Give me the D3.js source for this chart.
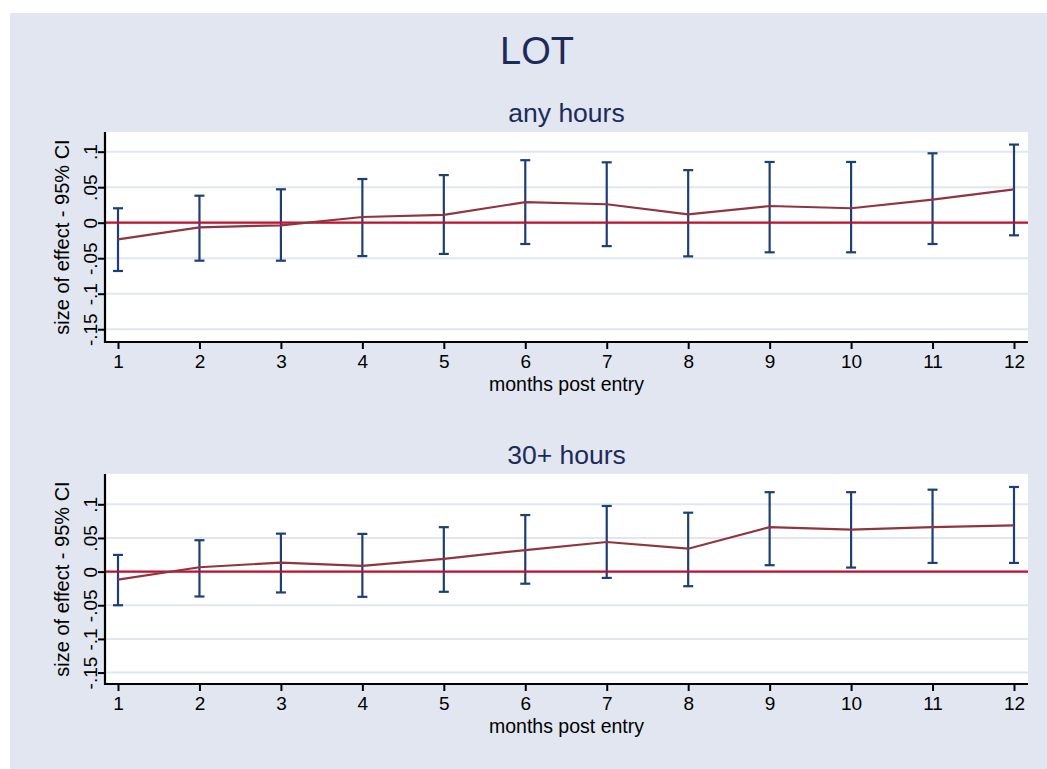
<!DOCTYPE html>
<html>
<head>
<meta charset="utf-8">
<script src="https://cdn.jsdelivr.net/npm/d3@7"></script>
<style>
  body { margin: 0; background: #ffffff; }
  text { font-family: "Liberation Sans", Arial, sans-serif; }
</style>
</head>
<body>
<div id="chart"></div>
<script>
// months post entry
const months = [1, 2, 3, 4, 5, 6, 7, 8, 9, 10, 11, 12];

// "any hours" estimates and 95% CI
const anyEst = [-0.0234, -0.0065, -0.0037, 0.008, 0.011, 0.029, 0.026, 0.0118, 0.0235, 0.0203, 0.0324, 0.047];
const anyLo = [-0.068, -0.0535, -0.0535, -0.047, -0.044, -0.030, -0.033, -0.0474, -0.0417, -0.0417, -0.030, -0.0178];
const anyHi = [0.0203, 0.038, 0.047, 0.0615, 0.067, 0.088, 0.085, 0.074, 0.0855, 0.0855, 0.0977, 0.110];

// "30+ hours" estimates and 95% CI
const fullEst = [-0.0119, 0.0065, 0.0134, 0.0085, 0.019, 0.032, 0.044, 0.034, 0.066, 0.0624, 0.066, 0.0688];
const fullLo = [-0.050, -0.037, -0.031, -0.0375, -0.030, -0.018, -0.0094, -0.0217, 0.0095, 0.006, 0.0129, 0.0129];
const fullHi = [0.0248, 0.0466, 0.0564, 0.056, 0.066, 0.084, 0.0975, 0.0875, 0.118, 0.118, 0.1217, 0.1257];

const yTicks = [-0.15, -0.1, -0.05, 0, 0.05, 0.1];

const W = 1047, H = 769;
const bg = '#e1e6f0';
const titleColor = '#1c2b5a';
const barColor = '#1d3f72';
const lineColor = '#903540';
const zeroColor = '#c2102f';
const gridColor = '#e1e6ef';

const svg = d3.select('#chart')
  .append('svg')
  .attr('width', W)
  .attr('height', H);

svg.append('rect')
  .attr('x', 10).attr('y', 13)
  .attr('width', W - 10).attr('height', H - 13)
  .attr('fill', bg);

svg.append('text')
  .attr('x', 537)
  .attr('y', 64)
  .attr('text-anchor', 'middle')
  .attr('font-size', '38px')
  .attr('fill', titleColor)
  .text('LOT');

const fmt = d => d === 0 ? '0' : String(d).replace('0.', '.');

function panel(cfg) {
  const left = 105, right = 1028;
  const g = svg.append('g');

  const x = d3.scaleLinear().domain([1, 12]).range([118, 1014]);
  const y = d3.scaleLinear().domain(cfg.domain).range([cfg.bottom, cfg.top]);

  g.append('text')
    .attr('x', (left + right) / 2)
    .attr('y', cfg.top - 10)
    .attr('text-anchor', 'middle')
    .attr('font-size', '26.5px')
    .attr('fill', titleColor)
    .text(cfg.title);

  g.append('rect')
    .attr('x', left).attr('y', cfg.top)
    .attr('width', right - left).attr('height', cfg.bottom - cfg.top)
    .attr('fill', '#ffffff');

  // gridlines
  g.selectAll('.grid')
    .data(yTicks)
    .enter()
    .append('line')
    .attr('class', 'grid')
    .attr('x1', left).attr('x2', right)
    .attr('y1', d => y(d)).attr('y2', d => y(d))
    .attr('stroke', gridColor)
    .attr('stroke-width', 2);

  // error bars
  const bars = g.selectAll('.ci')
    .data(months.map((m, i) => ({ m, lo: cfg.lo[i], hi: cfg.hi[i] })))
    .enter()
    .append('g')
    .attr('class', 'ci');

  bars.append('line')
    .attr('x1', d => x(d.m)).attr('x2', d => x(d.m))
    .attr('y1', d => y(d.lo)).attr('y2', d => y(d.hi))
    .attr('stroke', barColor).attr('stroke-width', 2.2);
  bars.append('line')
    .attr('x1', d => x(d.m) - 5).attr('x2', d => x(d.m) + 5)
    .attr('y1', d => y(d.lo)).attr('y2', d => y(d.lo))
    .attr('stroke', barColor).attr('stroke-width', 2.2);
  bars.append('line')
    .attr('x1', d => x(d.m) - 5).attr('x2', d => x(d.m) + 5)
    .attr('y1', d => y(d.hi)).attr('y2', d => y(d.hi))
    .attr('stroke', barColor).attr('stroke-width', 2.2);

  // zero line
  g.append('line')
    .attr('x1', left).attr('x2', right)
    .attr('y1', y(0)).attr('y2', y(0))
    .attr('stroke', zeroColor)
    .attr('stroke-width', 2.2);

  // point estimates
  g.append('path')
    .datum(months.map((m, i) => [m, cfg.est[i]]))
    .attr('fill', 'none')
    .attr('stroke', lineColor)
    .attr('stroke-width', 2.2)
    .attr('d', d3.line().x(d => x(d[0])).y(d => y(d[1])));

  // x axis
  const xAxis = g.append('g')
    .attr('transform', `translate(0,${cfg.bottom})`)
    .call(d3.axisBottom(x).tickValues(months).tickFormat(d3.format('d')).tickSize(7).tickPadding(6));
  xAxis.select('.domain').attr('d', `M${left - 1},0H${right}`).attr('stroke-width', 2.2);
  xAxis.selectAll('.tick line').attr('stroke-width', 2);
  xAxis.selectAll('.tick text')
    .attr('font-size', '19px')
    .attr('font-family', '"Liberation Sans", Arial, sans-serif')
    .attr('fill', '#000');

  g.append('text')
    .attr('x', (left + right) / 2)
    .attr('y', cfg.bottom + 49)
    .attr('text-anchor', 'middle')
    .attr('font-size', '19.5px')
    .attr('fill', '#000')
    .text('months post entry');

  // y axis
  const yAxis = g.append('g')
    .attr('transform', `translate(${left},0)`)
    .call(d3.axisLeft(y).tickValues(yTicks).tickFormat(fmt).tickSize(7));
  yAxis.select('.domain').attr('d', `M0,${cfg.top}V${cfg.bottom + 1}`).attr('stroke-width', 2.2);
  yAxis.selectAll('.tick line').attr('stroke-width', 2);
  yAxis.selectAll('.tick text')
    .attr('font-size', '19px')
    .attr('font-family', '"Liberation Sans", Arial, sans-serif')
    .attr('fill', '#000')
    .attr('x', 0)
    .attr('y', -8)
    .attr('dy', null)
    .attr('text-anchor', 'middle')
    .attr('transform', 'rotate(-90)');

  g.append('text')
    .attr('transform', `translate(69,${(cfg.top + cfg.bottom) / 2}) rotate(-90)`)
    .attr('text-anchor', 'middle')
    .attr('font-size', '20px')
    .attr('fill', '#000')
    .text('size of effect - 95% CI');
}

panel({ title: 'any hours', top: 132, bottom: 342, domain: [-0.168, 0.1277], est: anyEst, lo: anyLo, hi: anyHi });
panel({ title: '30+ hours', top: 474, bottom: 684, domain: [-0.167, 0.145], est: fullEst, lo: fullLo, hi: fullHi });
</script>
</body>
</html>
